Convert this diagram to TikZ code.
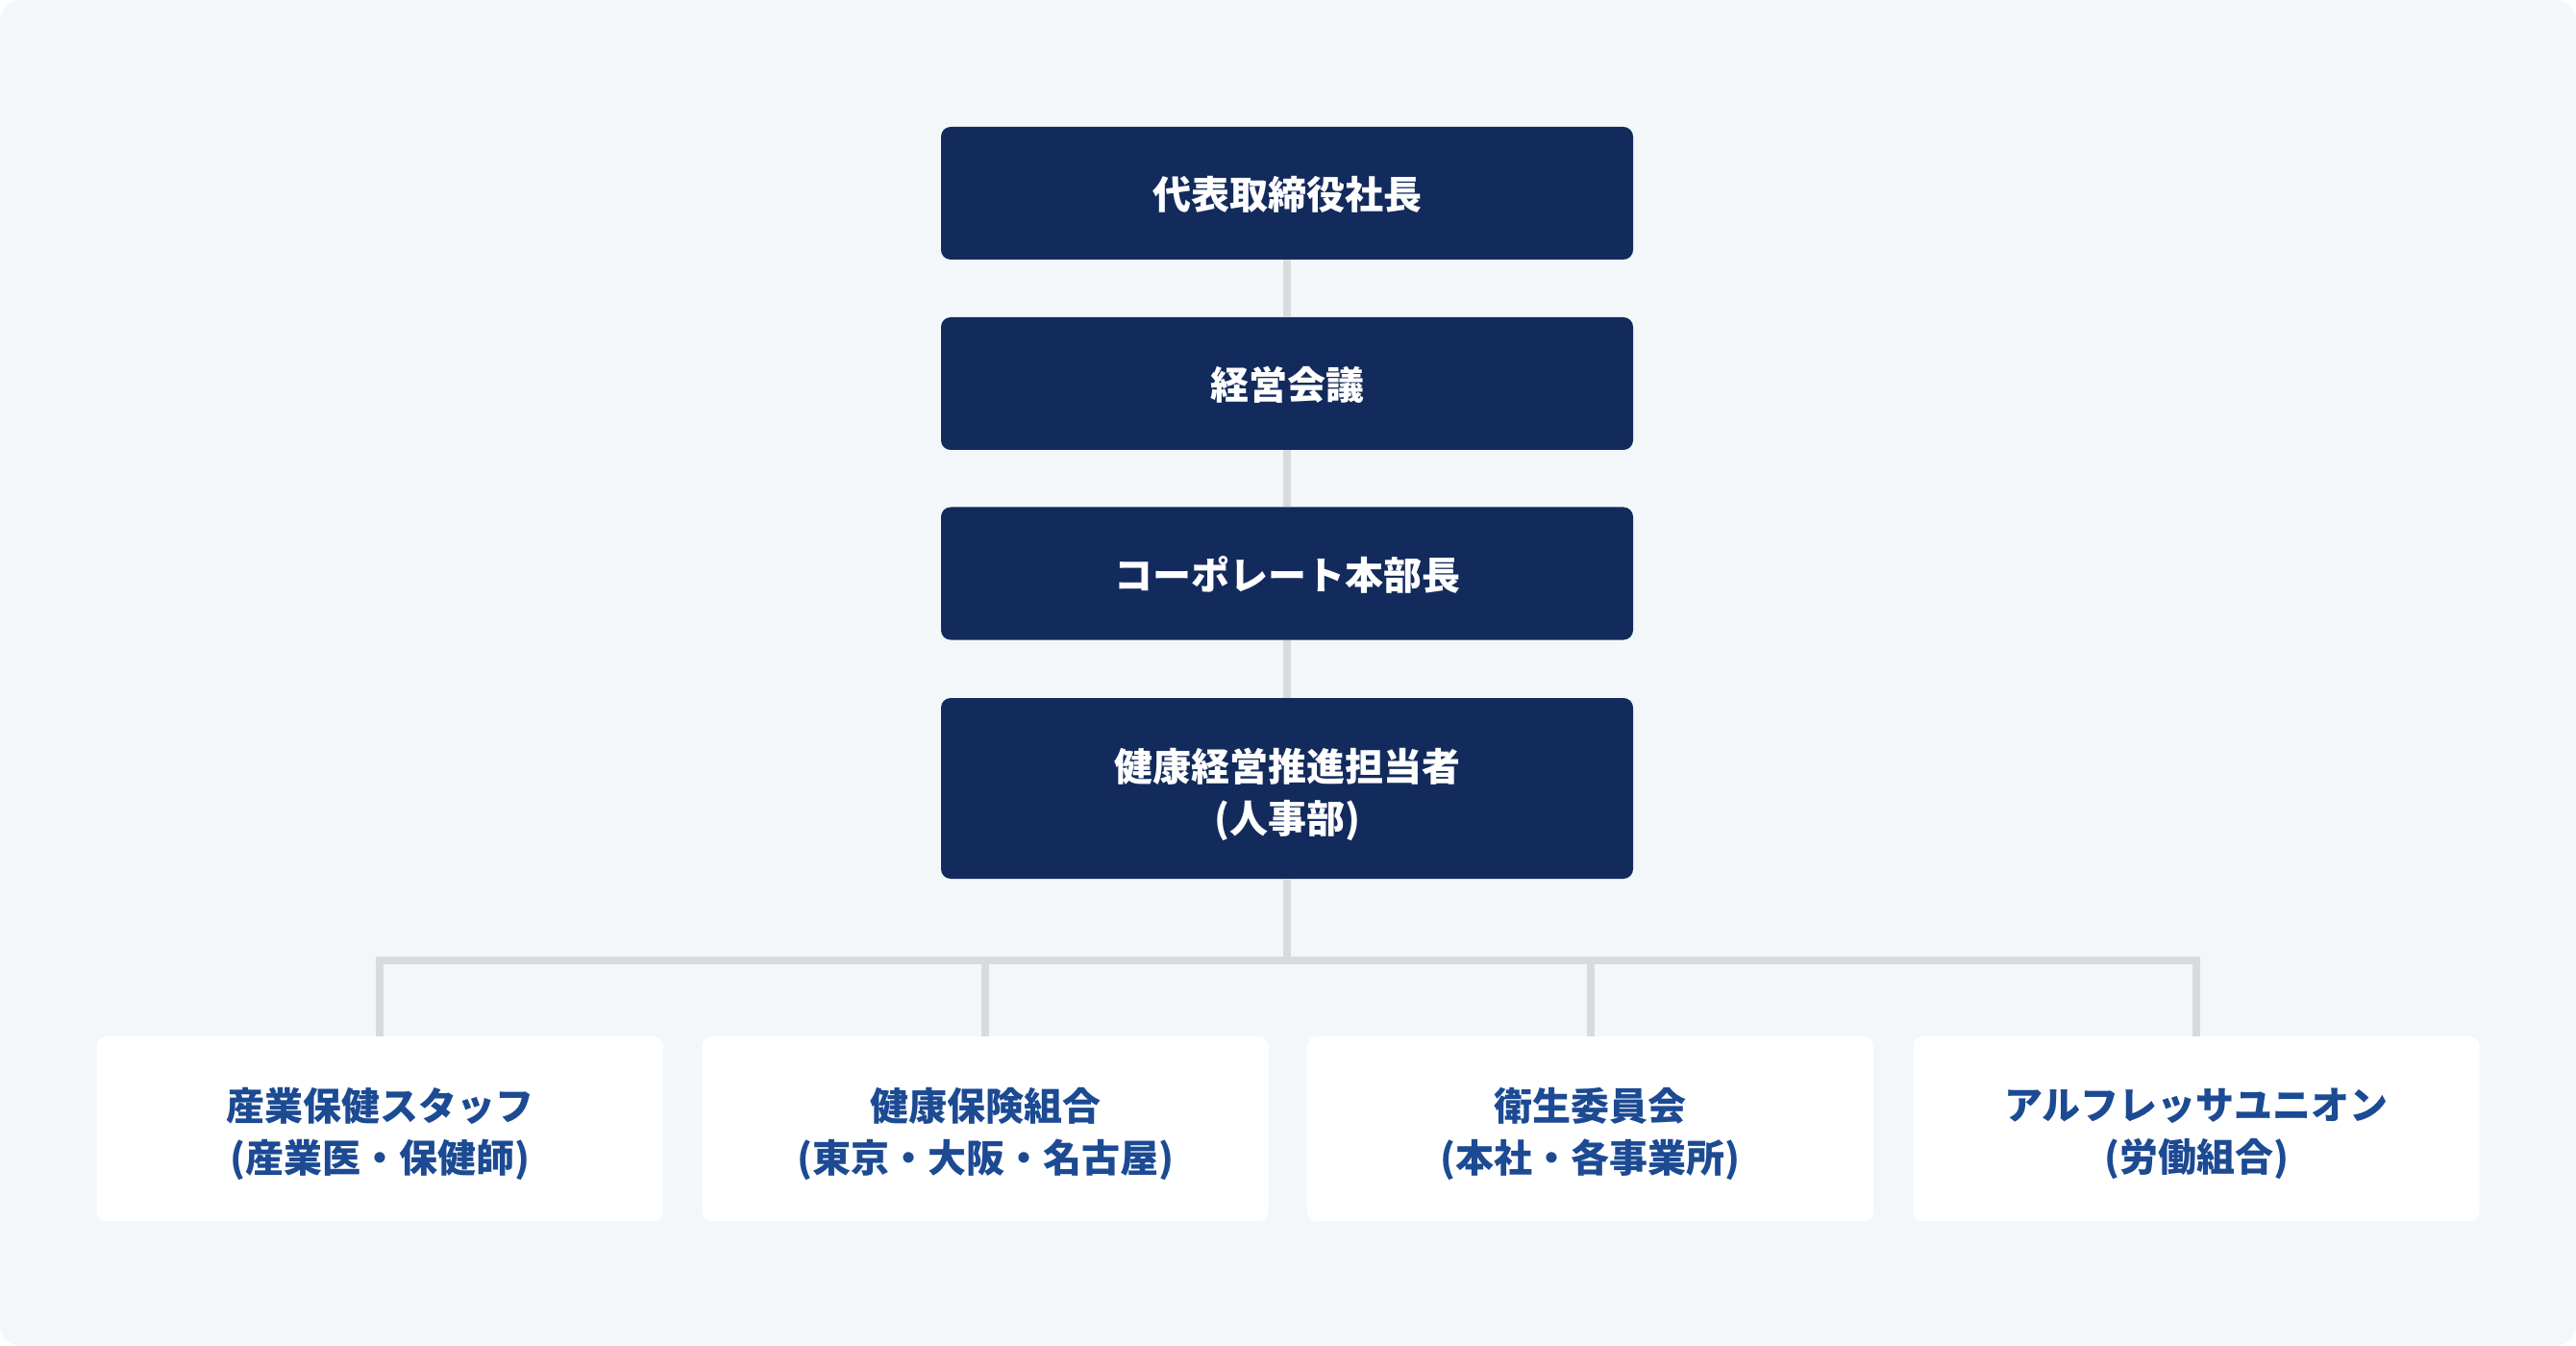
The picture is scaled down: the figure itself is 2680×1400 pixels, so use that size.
\documentclass[tikz,border=0pt]{standalone}
\usepackage{fontspec}
\newfontfamily\jp{Noto Sans CJK JP}
\definecolor{navy}{HTML}{132B5C}
\definecolor{txtblue}{HTML}{1C4A93}
\definecolor{linegray}{HTML}{D9DADC}
\definecolor{bggray}{HTML}{F4F7FA}
\begin{document}
\begin{tikzpicture}[x=0.5pt,y=-0.5pt,
  boxfont/.style={font=\jp\bfseries\fontsize{20pt}{27pt}\selectfont, align=center, inner sep=0pt},
  topbox/.style 2 args={rectangle, rounded corners=5pt, fill=navy,
    minimum width=360pt, minimum height=69pt, inner sep=0pt,
    label={[boxfont, text=white, yshift=#2]center:{#1}}},
  subbox/.style={rectangle, rounded corners=5pt, fill=white,
    minimum width=294.5pt, minimum height=96pt, inner sep=0pt,
    label={[boxfont, text=txtblue, yshift=-2.5pt]center:{#1}}},
  conn/.style={draw=linegray, line width=4pt, line join=miter}]
\useasboundingbox (0,0) rectangle (2680,1400);
\fill[white] (0,0) rectangle (2680,1400);
\fill[bggray, rounded corners=11pt] (0,0) rectangle (2680,1400);
\node[topbox={代表取締役社長}{-0.8pt}] (b1) at (1339,201) {};
\node[topbox={経営会議}{-0.8pt}] (b2) at (1339,399) {};
\node[topbox={コーポレート本部長}{-0.8pt}] (b3) at (1339,596.5) {};
\node[topbox={健康経営推進担当者\\(人事部)}{-3.2pt}, minimum height=94pt] (b4) at (1339,820) {};
\node[subbox={産業保健スタッフ\\(産業医・保健師)}] (c1) at (395,1174) {};
\node[subbox={健康保険組合\\(東京・大阪・名古屋)}] (c2) at (1025,1174) {};
\node[subbox={衛生委員会\\(本社・各事業所)}] (c3) at (1654.5,1174) {};
\node[subbox={アルフレッサユニオン\\(労働組合)}] (c4) at (2285,1174) {};
\coordinate (j) at (1339,999);
\draw[conn] (b1.south) -- (b2.north);
\draw[conn] (b2.south) -- (b3.north);
\draw[conn] (b3.south) -- (b4.north);
\draw[conn] (b4.south) -- (j);
\draw[conn] (c1.north) |- (j) -| (c4.north);
\draw[conn] (c2.north) -- (c2.north |- j);
\draw[conn] (c3.north) -- (c3.north |- j);
\end{tikzpicture}
\end{document}
